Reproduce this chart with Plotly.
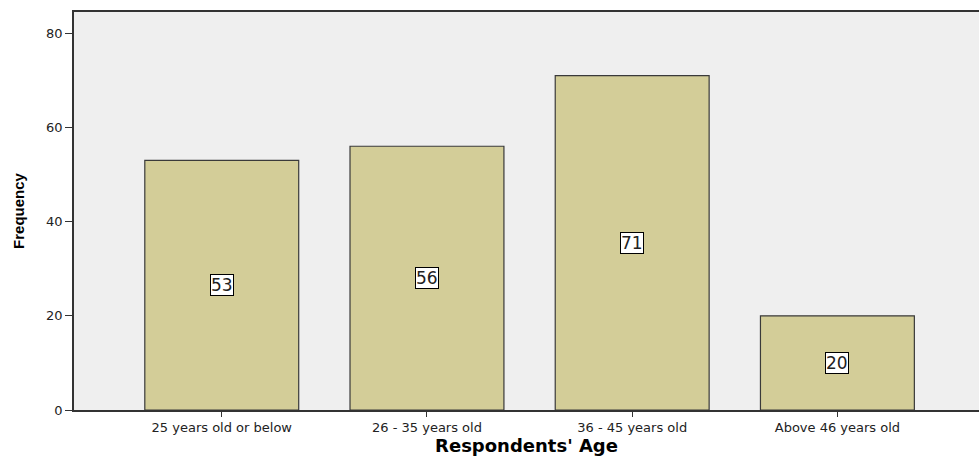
import plotly.graph_objects as go

categories = ["25 years old or below", "26 - 35 years old", "36 - 45 years old", "Above 46 years old"]
frequency = [53, 56, 71, 20]
y_ticks = [0, 20, 40, 60, 80]

fig = go.Figure()
fig.add_trace(go.Bar(
    x=categories, y=frequency, width=0.75,
    marker=dict(color="#D3CD98", line=dict(color="#3a3a3a", width=1.2)),
    showlegend=False, hoverinfo="skip",
))
for c, v in zip(categories, frequency):
    fig.add_annotation(x=c, y=v / 2, text=str(v), showarrow=False,
                       bgcolor="white", bordercolor="black", borderwidth=1, borderpad=0,
                       font=dict(family="DejaVu Sans", size=17, color="#222222"))

fig.update_layout(
    width=979, height=456,
    margin=dict(l=74, r=0, t=12, b=46),
    paper_bgcolor="white", plot_bgcolor="#EFEFEF",
    font=dict(family="DejaVu Sans", color="#222222"),
    xaxis=dict(range=[-0.72, 3.69], showline=True, mirror=True, linecolor="#333333", linewidth=1.5,
               ticks="outside", ticklen=5, tickcolor="#333333", tickfont=dict(size=13),
               title=dict(text="<b>Respondents' Age</b>", font=dict(size=18, color="black"), standoff=3),
               showgrid=False),
    yaxis=dict(range=[0, 84.5], tickvals=y_ticks, showline=True, linecolor="#333333", linewidth=1.5,
               ticks="outside", ticklen=7, tickcolor="#333333", tickfont=dict(size=13),
               title=dict(text="<b>Frequency</b>", font=dict(size=15, color="black", family="Liberation Sans Narrow, Liberation Sans"), standoff=18),
               showgrid=False, zeroline=False),
)
fig.write_html("out.html", config={"displayModeBar": False},
               post_script="document.body.style.margin='0';document.body.style.overflow='hidden';")
